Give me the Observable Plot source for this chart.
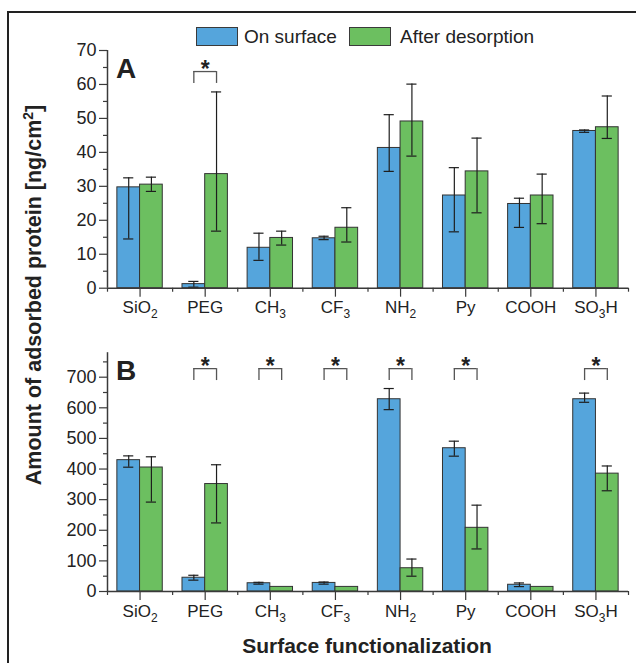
<!DOCTYPE html>
<html>
<head>
<meta charset="utf-8">
<script src="https://cdn.jsdelivr.net/npm/d3@7"></script>
<script src="https://cdn.jsdelivr.net/npm/@observablehq/plot@0.6"></script>
<style>
  html, body { margin: 0; padding: 0; background: #fff; }
  #fig { position: relative; width: 636px; height: 663px; overflow: hidden; font-family: "Liberation Sans", Arial, sans-serif; color: #222; }
  .abs { position: absolute; white-space: nowrap; }
  .sw { position: absolute; width: 42px; height: 19px; box-sizing: border-box; border: 1.5px solid #3a3a3a; }
</style>
</head>
<body>
<div id="fig">
  <div class="abs" style="left:7px; top:11px; width:700px; height:700px; border-top:2px solid #222; border-left:2px solid #222;"></div>
  <div class="sw" style="left:196px; top:27px; background:#55a5dc;"></div>
  <div class="abs" style="left:244px; top:26px; font-size:19px; line-height:22px;">On surface</div>
  <div class="sw" style="left:349px; top:27px; background:#6cbf60;"></div>
  <div class="abs" style="left:400px; top:26px; font-size:19px; line-height:22px;">After desorption</div>
  <div class="abs" style="left:116px; top:54.5px; font-size:28px; font-weight:bold; line-height:1;">A</div>
  <div class="abs" style="left:116px; top:357px; font-size:28px; font-weight:bold; line-height:1;">B</div>
  <div class="abs" style="left:-166px; top:283px; width:400px; text-align:center; font-size:21.5px; font-weight:bold; line-height:24px; transform:rotate(-90deg); transform-origin:50% 50%;">Amount of adsorbed protein [ng/cm<sup style="font-size:14px; line-height:0;">2</sup>]</div>
  <div class="abs" style="left:167px; top:634px; width:400px; text-align:center; font-size:21px; font-weight:bold; line-height:24px;">Surface functionalization</div>
</div>
<script>
const categories = ["SiO2", "PEG", "CH3", "CF3", "NH2", "Py", "COOH", "SO3H"];
const seriesNames = ["On surface", "After desorption"];

// Panel A (ng/cm2)
const surfaceA    = [29.7, 1.2, 11.9, 14.7, 41.3, 27.3, 24.8, 46.3];
const surfaceA_lo = [14.5, 0.3,  8.2, 14.3, 34.4, 16.6, 17.9, 45.9];
const surfaceA_hi = [32.5, 2.0, 16.2, 15.3, 51.1, 35.5, 26.5, 46.6];
const desorbA     = [30.5, 33.6, 14.8, 17.8, 49.1, 34.4, 27.3, 47.4];
const desorbA_lo  = [28.5, 16.8, 12.7, 13.6, 38.9, 22.2, 19.0, 44.1];
const desorbA_hi  = [32.7, 57.8, 16.8, 23.7, 60.1, 44.2, 33.6, 56.6];
const sigA = ["PEG"];

// Panel B (ng/cm2)
const surfaceB    = [429, 45, 27, 28, 628, 468, 22, 628];
const surfaceB_lo = [406, 37, 24, 24, 594, 442, 16, 618];
const surfaceB_hi = [443, 53, 30, 31, 663, 491, 28, 648];
const desorbB     = [405, 351, 15, 15, 76, 208, 15, 385];
const desorbB_lo  = [292, 224, null, null, 50, 139, null, 329];
const desorbB_hi  = [440, 414, null, null, 106, 282, null, 410];
const sigB = ["PEG", "CH3", "CF3", "NH2", "Py", "SO3H"];

const colors = {"On surface": "#55a5dc", "After desorption": "#6cbf60"};
const HALF = 0.3486;   // bar width in band units
const CAP = 0.078;     // half cap width

function rowsFor(s, sLo, sHi, d, dLo, dHi) {
  const rows = [];
  categories.forEach((c, i) => {
    rows.push({cat: c, i, series: seriesNames[0], value: s[i], lo: sLo[i], hi: sHi[i], x1: i - HALF, x2: i, xc: i - HALF / 2});
    rows.push({cat: c, i, series: seriesNames[1], value: d[i], lo: dLo[i], hi: dHi[i], x1: i, x2: i + HALF, xc: i + HALF / 2});
  });
  return rows;
}

function subscriptify(svg) {
  d3.select(svg).selectAll("g[aria-label='x-axis tick label'] text").each(function () {
    const s = this.textContent;
    if (!/\d/.test(s)) return;
    const t = d3.select(this);
    t.text(null);
    let sub = false;
    s.match(/\d+|\D+/g).forEach(p => {
      const ts = t.append("tspan").text(p);
      if (/\d/.test(p)) { ts.attr("dy", 5).attr("font-size", 12); sub = true; }
      else if (sub) { ts.attr("dy", -5); sub = false; }
    });
  });
}

function panel({rows, sig, ymax, majorStep, minorStep, top, height, marginTop, marginBottom, brTop, brLeg}) {
  const err = rows.filter(d => d.lo != null && d.hi != null);
  const sigRows = categories.map((c, i) => ({cat: c, i})).filter(d => sig.includes(d.cat));
  const svg = Plot.plot({
    width: 636,
    height,
    marginLeft: 107,
    marginRight: 8,
    marginTop,
    marginBottom,
    style: {fontFamily: "'Liberation Sans', Arial, sans-serif", color: "#222", background: "transparent", overflow: "visible"},
    x: {domain: [-0.5, 7.5], axis: null},
    y: {domain: [0, ymax], axis: null, label: null},
    marks: [
      Plot.rectY(rows, {x1: "x1", x2: "x2", y: "value", fill: d => colors[d.series], stroke: "#333", strokeWidth: 1}),
      Plot.ruleX(err, {x: "xc", y1: "lo", y2: "hi", stroke: "#1e1e1e", strokeWidth: 1.2}),
      Plot.ruleY(err, {y: "hi", x1: d => d.xc - CAP, x2: d => d.xc + CAP, stroke: "#1e1e1e", strokeWidth: 1.2}),
      Plot.ruleY(err, {y: "lo", x1: d => d.xc - CAP, x2: d => d.xc + CAP, stroke: "#1e1e1e", strokeWidth: 1.2}),
      // significance brackets
      Plot.ruleY(sigRows, {y: () => brTop, x1: d => d.i - HALF / 2, x2: d => d.i + HALF / 2, stroke: "#555", strokeWidth: 1.3}),
      Plot.ruleX(sigRows, {x: d => d.i - HALF / 2, y1: () => brLeg, y2: () => brTop, stroke: "#555", strokeWidth: 1.3}),
      Plot.ruleX(sigRows, {x: d => d.i + HALF / 2, y1: () => brLeg, y2: () => brTop, stroke: "#555", strokeWidth: 1.3}),
      Plot.text(sigRows, {x: "i", y: () => brTop, text: () => "*", lineAnchor: "bottom", dy: 5, fontSize: 23, fontWeight: "bold", fill: "#222"}),
      // axes
      Plot.axisY({ticks: d3.range(0, ymax + 1e-9, majorStep), tickSize: 8, tickPadding: 3, fontSize: 18, stroke: "#3a3a3a", strokeWidth: 1.2, label: null}),
      Plot.axisY({ticks: d3.range(minorStep, ymax, majorStep), tickSize: 4, tickFormat: () => "", stroke: "#3a3a3a", strokeWidth: 1.2, label: null}),
      Plot.axisX({ticks: d3.range(categories.length), tickFormat: i => categories[i], tickSize: 9, tickPadding: 4, fontSize: 17, stroke: "#3a3a3a", strokeWidth: 1.2, label: null}),
      Plot.axisX({ticks: d3.range(-0.5, categories.length, 1), tickSize: 4, tickFormat: () => "", stroke: "#3a3a3a", strokeWidth: 1.2, label: null}),
      Plot.ruleX([-0.5], {stroke: "#3a3a3a", strokeWidth: 1.5}),
      Plot.ruleY([0], {stroke: "#3a3a3a", strokeWidth: 1.5})
    ]
  });
  subscriptify(svg);
  svg.style.position = "absolute";
  svg.style.left = "0px";
  svg.style.top = top + "px";
  document.getElementById("fig").appendChild(svg);
}

panel({
  rows: rowsFor(surfaceA, surfaceA_lo, surfaceA_hi, desorbA, desorbA_lo, desorbA_hi),
  sig: sigA, ymax: 70, majorStep: 10, minorStep: 5,
  top: 40, height: 280, marginTop: 10, marginBottom: 32.3,
  brTop: 63.8, brLeg: 60.3
});
panel({
  rows: rowsFor(surfaceB, surfaceB_lo, surfaceB_hi, desorbB, desorbB_lo, desorbB_hi),
  sig: sigB, ymax: 780, majorStep: 100, minorStep: 50,
  top: 340, height: 284, marginTop: 12.2, marginBottom: 33,
  brTop: 728, brLeg: 689
});
</script>
</body>
</html>
